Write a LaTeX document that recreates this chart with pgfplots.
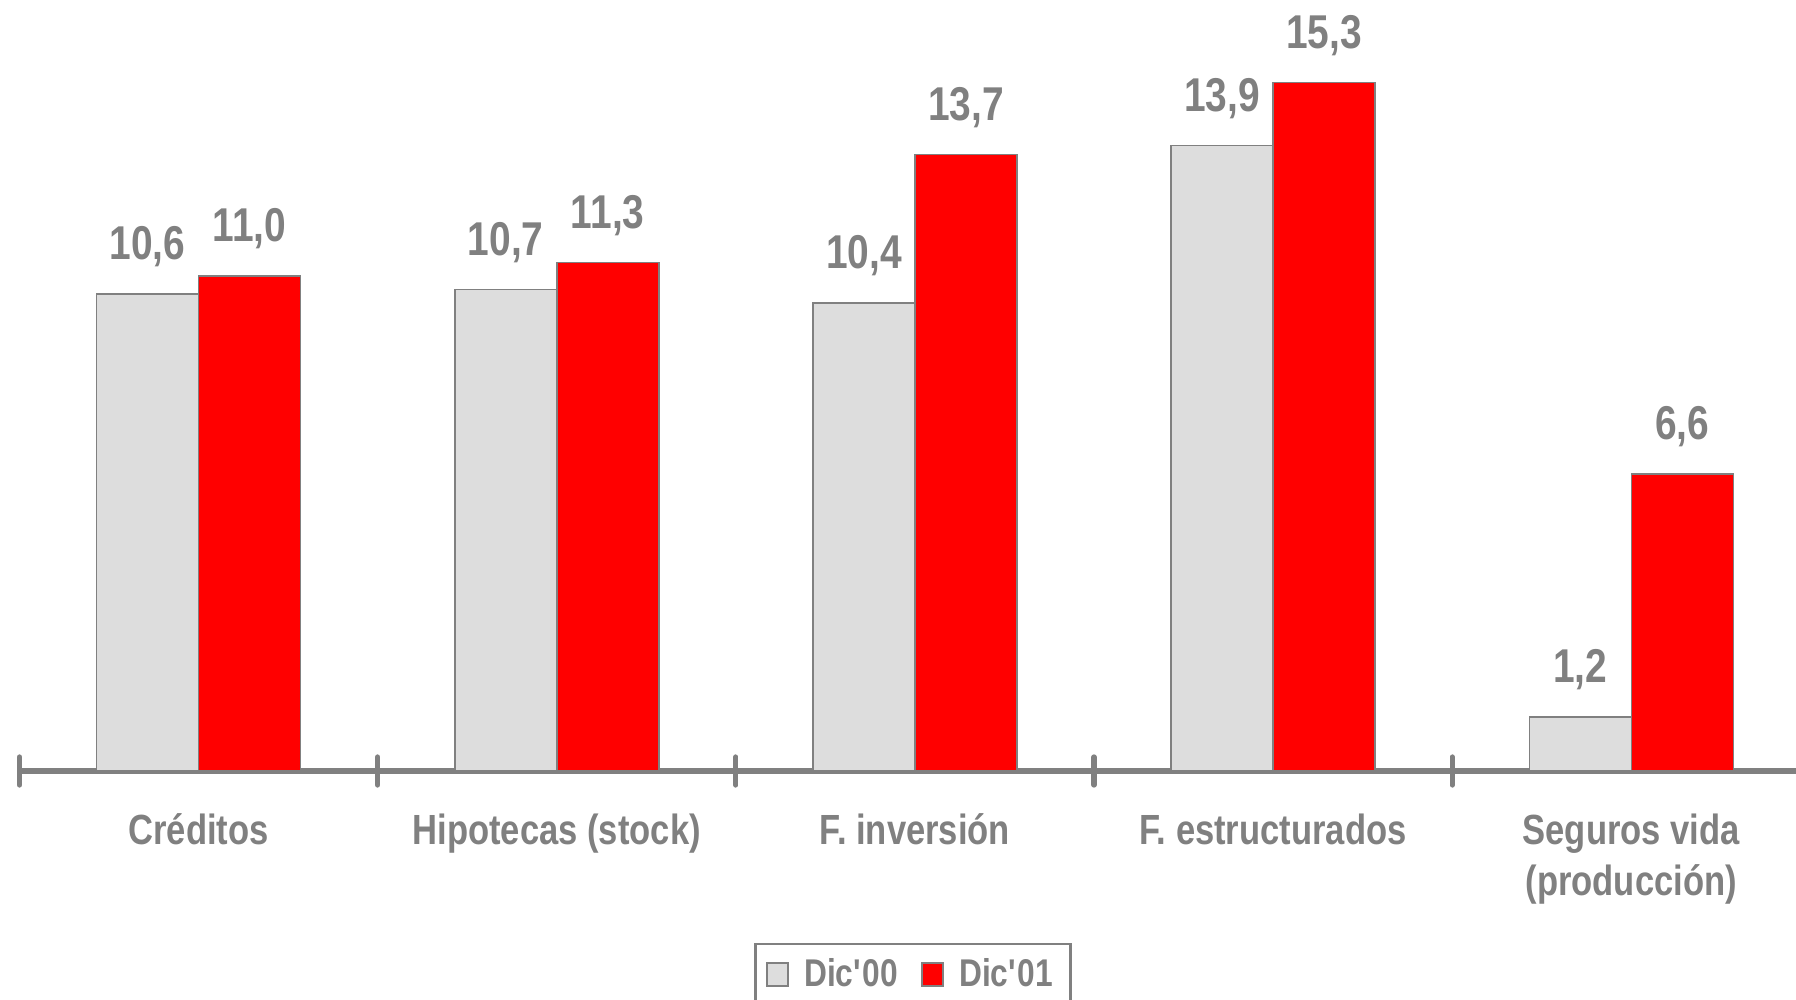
\documentclass[border=0pt]{standalone}
\usepackage{fontspec}
\setmainfont{Liberation Sans}[FakeStretch=0.82]
\usepackage{pgfplots}
\pgfplotsset{compat=1.18}
\definecolor{barg}{HTML}{DDDDDD}
\definecolor{barr}{HTML}{FF0000}
\definecolor{ln}{HTML}{808080}
\begin{document}
\begin{tikzpicture}
\useasboundingbox (0,0) rectangle (17.96,9.99);
\begin{axis}[
  at={(0.195cm,2.28cm)}, anchor=south west,
  scale only axis, width=17.765cm, height=7.71cm,
  xmin=-0.5, xmax=4.46, ymin=0, ymax=17.13,
  enlargelimits=false, clip=false,
  ybar=0pt, bar width=1.02cm,
  axis x line=bottom, axis y line=none,
  x axis line style={-, draw=ln, line width=1.8pt},
  xtick={0,...,4},
  xticklabels={Créditos, Hipotecas (stock), F. inversión, F. estructurados, {Seguros vida\\(producción)}},
  major tick length=0pt,
  extra x ticks={-0.5,0.5,1.5,2.5,3.5},
  extra x tick labels={},
  extra x tick style={major tick length=2.8mm, tick align=center,
    tick style={draw=ln, line width=1.5pt, line cap=round}},
  xticklabel style={font=\bfseries\fontsize{12}{14.6}\selectfont, text=ln,
    align=center, anchor=north, inner sep=0pt, yshift=-4.2mm},
  nodes near coords={\pgfmathprintnumber[fixed,fixed zerofill,precision=1,use comma,assume math mode=true]{\pgfplotspointmeta}},
  every node near coord/.append style={font=\bfseries\fontsize{13.5}{16}\selectfont,
    text=ln, anchor=base, inner sep=0pt, yshift=3.4mm},
  legend style={at={(0.503,-0.223)}, anchor=north, draw=ln, line width=0.7pt,
    legend columns=2, font=\bfseries\fontsize{11}{13}\selectfont, text=ln,
    /tikz/every odd column/.append style={column sep=0.8mm},
    /tikz/every even column/.append style={column sep=1.6mm}},
  legend image code/.code={\draw[#1, line width=0.6pt] (0cm,-0.115cm) rectangle (0.21cm,0.115cm);},
]
\addplot[fill=barg, draw=ln, line width=0.15mm] coordinates {
  (0,10.6) (1,10.7) (2,10.4) (3,13.9) (4,1.2)};
\addplot[fill=barr, draw=ln, line width=0.15mm] coordinates {
  (0,11.0) (1,11.3) (2,13.7) (3,15.3) (4,6.6)};
\legend{Dic\textquotesingle00, Dic\textquotesingle01}
\end{axis}
\end{tikzpicture}
\end{document}
